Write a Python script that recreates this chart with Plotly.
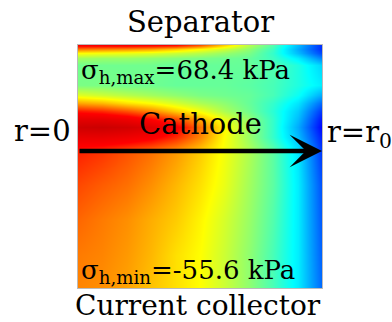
import plotly.graph_objects as go

# radial position r/r0 (columns) and depth from separator (rows, 0=top, 1=bottom)
r_frac = [0.0, 0.1, 0.2, 0.3, 0.4, 0.5, 0.6, 0.7, 0.8, 0.9, 1.0]
depth_frac = [0.0, 0.016, 0.033, 0.053, 0.082, 0.165, 0.206, 0.239, 0.272,
              0.305, 0.337, 0.379, 0.436, 0.576, 0.72, 0.864, 1.0]

# hydrostatic stress sigma_h (kPa)
sigma_h = [
    [46.1, 46.1, 46.1, 44.8, 42.4, 33.7, 18.8, 3.9, -8.5, -28.3, -49.4],
    [28.7, 27.5, 26.2, 23.8, 18.8, 12.6, 6.4, -1.0, -11.0, -30.8, -49.4],
    [12.6, 11.4, 10.1, 8.9, 6.4, 3.9, 0.2, -3.5, -12.2, -28.3, -45.7],
    [1.4, 0.2, 0.2, -1.0, -2.3, -3.5, -4.8, -6.0, -11.0, -20.9, -37.0],
    [-4.8, -4.8, -4.8, -4.8, -6.0, -6.0, -6.0, -6.0, -8.5, -14.7, -24.6],
    [-3.5, -3.5, -4.8, -4.8, -6.0, -6.0, -6.0, -7.2, -9.7, -14.7, -20.9],
    [8.9, 6.4, 3.9, 1.4, -1.0, -3.5, -4.8, -6.0, -9.7, -17.2, -30.8],
    [23.8, 21.3, 16.3, 12.6, 7.6, 2.7, -1.0, -6.0, -12.2, -22.1, -40.7],
    [41.1, 38.6, 33.7, 27.5, 18.8, 11.4, 2.7, -4.8, -13.4, -25.8, -48.2],
    [53.5, 53.5, 49.8, 43.6, 34.9, 22.5, 10.1, -1.0, -12.2, -28.3, -53.1],
    [62.2, 63.4, 61.0, 56.0, 46.1, 30.0, 13.8, 0.2, -12.2, -30.8, -55.6],
    [52.3, 52.3, 49.8, 46.1, 38.6, 27.5, 12.6, 0.2, -12.2, -28.3, -51.9],
    [39.9, 37.4, 33.7, 30.0, 25.0, 18.8, 11.4, 2.7, -7.2, -22.1, -48.2],
    [34.9, 32.4, 30.0, 26.2, 21.3, 16.3, 10.1, 1.4, -7.2, -20.9, -44.4],
    [31.2, 28.7, 26.2, 22.5, 18.8, 13.8, 7.6, 0.2, -8.5, -20.9, -43.2],
    [28.7, 27.5, 25.0, 21.3, 16.3, 12.6, 6.4, -1.0, -9.7, -20.9, -42.0],
    [27.5, 26.2, 23.8, 20.0, 16.3, 12.6, 6.4, -1.0, -9.7, -20.9, -40.7],
]

sigma_max = 68.4
sigma_min = -55.6
arrow_depth = 0.436

label_top = "Separator"
label_bottom = "Current collector"
label_mid = "Cathode"
label_left = "r=0"
label_right = "r=r<sub>0</sub>"
label_max = "σ<sub>h,max</sub>=68.4 kPa"
label_min = "σ<sub>h,min</sub>=-55.6 kPa"

W, H = 392, 322
FONT = "DejaVu Serif"


def px(x):
    return x / W


def py(y):
    return 1 - y / H


colorscale = [
    [0.0, "rgb(0,0,255)"],
    [0.3, "rgb(0,255,255)"],
    [0.55, "rgb(255,255,0)"],
    [0.8, "rgb(255,0,0)"],
    [1.0, "rgb(190,0,0)"],
]

fig = go.Figure()
fig.add_trace(go.Heatmap(
    x=r_frac, y=depth_frac, z=sigma_h,
    colorscale=colorscale, zmin=sigma_min, zmax=sigma_max,
    zsmooth="best", showscale=False, hoverinfo="skip",
))

ann = []


def text(t, x, y, xanchor="center", size=28):
    ann.append(dict(text=t, x=px(x), y=py(y), xref="paper", yref="paper",
                    xanchor=xanchor, yanchor="middle", showarrow=False,
                    font=dict(family=FONT, size=size, color="black")))


text(label_top, 200, 22, size=29)
text(label_bottom, 198, 305, size=28)
text(label_mid, 200, 124, size=29)
text(label_left, 73, 131, xanchor="right", size=29)
text(label_right, 325, 134, xanchor="left", size=29)
text(label_max, 79, 71, xanchor="left", size=26)
text(label_min, 79, 271, xanchor="left", size=26)

ann.append(dict(
    x=1.0, y=arrow_depth, xref="x", yref="y",
    ax=0.0, ay=arrow_depth, axref="x", ayref="y",
    showarrow=True, arrowhead=3, arrowsize=1.2, arrowwidth=4.5,
    arrowcolor="black", standoff=0, startstandoff=0, text="",
))

fig.update_layout(
    width=W, height=H,
    margin=dict(l=0, r=0, t=0, b=0),
    paper_bgcolor="white", plot_bgcolor="white",
    showlegend=False,
    annotations=ann,
    xaxis=dict(domain=[78 / W, 322 / W], range=[0, 1], showticklabels=False,
               showgrid=False, zeroline=False, ticks="", showline=True,
               mirror=True, linecolor="#bbbbbb", linewidth=1, fixedrange=True),
    yaxis=dict(domain=[1 - 288 / H, 1 - 45 / H], range=[1, 0],
               showticklabels=False, showgrid=False, zeroline=False, ticks="",
               showline=True, mirror=True, linecolor="#bbbbbb", linewidth=1,
               fixedrange=True),
)

fig.write_html("out.html", config={"displayModeBar": False})
